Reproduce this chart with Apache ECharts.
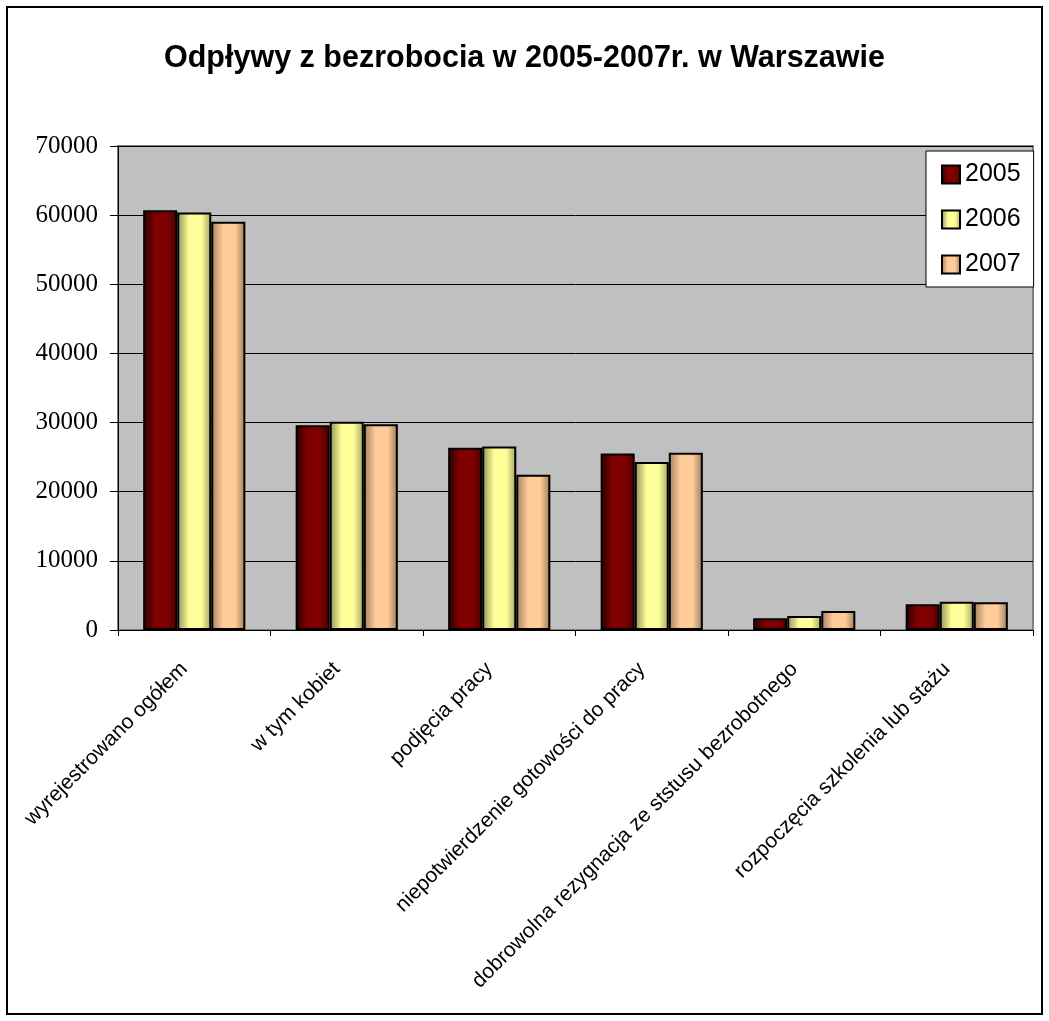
<!DOCTYPE html>
<html>
<head>
<meta charset="utf-8">
<title>Odpływy z bezrobocia w 2005-2007r. w Warszawie</title>
<script src="https://cdn.jsdelivr.net/npm/echarts@6/dist/echarts.min.js"></script>
<style>
  html, body { margin: 0; padding: 0; background: #ffffff; }
  #chartBar { width: 1049px; height: 1021px; }
</style>
</head>
<body>
<div id="chartBar"></div>
<script>
// categories on the x axis
const categories = [
  "wyrejestrowano ogółem",
  "w tym kobiet",
  "podjęcia pracy",
  "niepotwierdzenie gotowości do pracy",
  "dobrowolna rezygnacja ze ststusu bezrobotnego",
  "rozpoczęcia szkolenia lub stażu",
];
// series names (legend)
const years = ["2005", "2006", "2007"];
// values
const values2005 = [60700, 29630, 26360, 25540, 1690, 3710];
const values2006 = [60400, 30110, 26550, 24290, 2020, 4090];
const values2007 = [59060, 29770, 22470, 25640, 2740, 4000];
// y axis range
const yMin = 0;
const yMax = 70000;
const yStep = 10000;

// horizontal gradient, dark at the edges like the old Excel bars
function barFill(edgeL, mid, edgeR) {
  return new echarts.graphic.LinearGradient(0, 0, 1, 0, [
    { offset: 0, color: edgeL },
    { offset: 0.35, color: mid },
    { offset: 0.7, color: mid },
    { offset: 1, color: edgeR },
  ]);
}

const fills = [
  barFill("#2a0000", "#800000", "#4a0000"),
  barFill("#8f8f58", "#ffff99", "#a3a366"),
  barFill("#a38060", "#ffcc99", "#9c7a5a"),
];
const seriesValues = [values2005, values2006, values2007];

const option = {
  animation: false,
  backgroundColor: "#ffffff",
  title: {
    text: "Odpływy z bezrobocia w 2005-2007r. w Warszawie",
    left: "center",
    top: 38,
    textStyle: {
      fontFamily: "Liberation Sans, Arial, sans-serif",
      fontSize: 30.5,
      fontWeight: "bold",
      color: "#000000",
    },
  },
  legend: {
    data: years,
    orient: "vertical",
    left: 926,
    top: 151,
    backgroundColor: "#ffffff",
    borderColor: "#000000",
    borderWidth: 1,
    padding: [11, 13, 10, 15],
    itemWidth: 18,
    itemHeight: 18,
    itemGap: 20,
    icon: "rect",
    textStyle: {
      fontFamily: "Liberation Sans, Arial, sans-serif",
      fontSize: 25,
      color: "#000000",
    },
  },
  grid: {
    left: 118,
    right: 16,
    top: 146,
    bottom: 391,
    show: true,
    backgroundColor: "#c0c0c0",
    borderColor: "#808080",
    borderWidth: 2,
  },
  xAxis: {
    type: "category",
    data: categories,
    axisLine: { show: true, lineStyle: { color: "#000000", width: 1 } },
    axisTick: { show: true, length: 6, lineStyle: { color: "#000000" } },
    axisLabel: {
      interval: 0,
      rotate: 45,
      margin: 26,
      padding: [0, 14, 0, 0],
      fontFamily: "Liberation Sans, Arial, sans-serif",
      fontSize: 21,
      color: "#000000",
    },
  },
  yAxis: {
    type: "value",
    min: yMin,
    max: yMax,
    interval: yStep,
    axisLine: { show: true, lineStyle: { color: "#000000", width: 1 } },
    axisTick: { show: true, length: 8, lineStyle: { color: "#000000" } },
    splitLine: { show: true, lineStyle: { color: "#000000", width: 1 } },
    axisLabel: {
      margin: 20,
      formatter: (v) => String(v),
      fontFamily: "Liberation Serif, Times New Roman, serif",
      fontSize: 25,
      color: "#000000",
    },
  },
  series: years.map((name, i) => ({
    name: name,
    type: "bar",
    data: seriesValues[i],
    barGap: "0%",
    barCategoryGap: "33%",
    itemStyle: {
      color: fills[i],
      borderColor: "#000000",
      borderWidth: 2,
    },
  })),
  // outer frame of the chart
  graphic: [
    {
      type: "rect",
      shape: { x: 7, y: 7, width: 1035, height: 1007 },
      style: { fill: "none", stroke: "#000000", lineWidth: 2 },
      silent: true,
    },
  ],
};

var myChart = echarts.init(document.getElementById("chartBar"));
myChart.setOption(option);
window.addEventListener("resize", () => {
  myChart.resize();
});
</script>
</body>
</html>
